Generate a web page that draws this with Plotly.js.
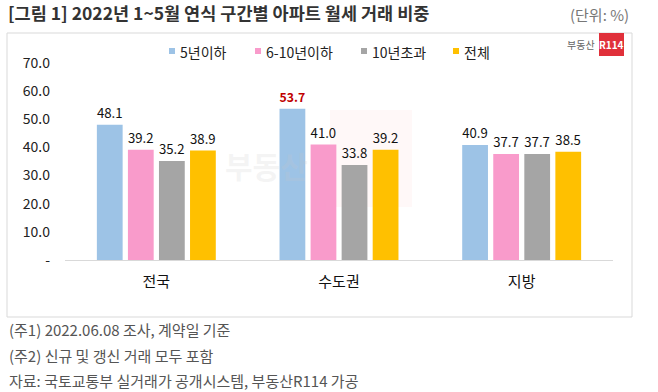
<!DOCTYPE html>
<html><head><meta charset="utf-8">
<script src="https://cdn.plot.ly/plotly-3.0.1.min.js"></script>
<style>html,body{margin:0;padding:0;background:#fff;}#c{width:658px;height:392px;}</style>
</head><body><div id="c"></div>
<script>
const categories = ['전국', '수도권', '지방'];
const seriesNames = ['5년이하', '6-10년이하', '10년초과', '전체'];
const s5 = [48.1, 53.7, 40.9];
const s6_10 = [39.2, 41.0, 37.7];
const s10 = [35.2, 33.8, 37.7];
const sAll = [38.9, 39.2, 38.5];
const yTickVals = [0, 10, 20, 30, 40, 50, 60, 70];
const yTickText = ['-', '10.0', '20.0', '30.0', '40.0', '50.0', '60.0', '70.0'];
const highlight = {series: 0, index: 1};

const colors = ['#9DC3E6', '#F99BCB', '#A5A5A5', '#FFC000'];
const seriesVals = [s5, s6_10, s10, sAll];

// plot area in pixels
const L = 65, R = 613, T = 63, B = 260;
const W = R - L, H = B - T;
const px = x => (x - L) / W;
const py = y => (B - y) / H;

const font = '"Noto Sans CJK KR", "Noto Sans", sans-serif';

const traces = seriesVals.map((vals, si) => ({
  type: 'bar',
  name: seriesNames[si],
  x: categories,
  y: vals,
  marker: {color: colors[si]},
  text: vals.map((v, i) => (si === highlight.series && i === highlight.index) ? '<b>' + v.toFixed(1) + '</b>' : v.toFixed(1)),
  textposition: 'outside',
  textfont: {family: font, size: 14, color: vals.map((v, i) => (si === highlight.series && i === highlight.index) ? '#C00000' : '#111')},
  cliponaxis: false,
  hoverinfo: 'skip'
}));

const legendX = [169, 255, 361, 453];
const shapes = [
  {type: 'rect', xref: 'paper', yref: 'paper', x0: px(7), x1: px(632), y0: py(317), y1: py(33), line: {color: '#D9D9D9', width: 1}, fillcolor: 'rgba(0,0,0,0)', layer: 'below'},
  {type: 'rect', xref: 'paper', yref: 'paper', x0: px(330), x1: px(412), y0: py(207), y1: py(110), line: {width: 0}, fillcolor: 'rgba(255,200,200,0.12)', layer: 'below'},
  {type: 'rect', xref: 'paper', yref: 'paper', x0: px(599), x1: px(624), y0: py(56), y1: py(33), line: {width: 0}, fillcolor: '#E0303A'}
];
const annotations = [];
seriesNames.forEach((n, i) => {
  shapes.push({type: 'rect', xref: 'paper', yref: 'paper', x0: px(legendX[i]), x1: px(legendX[i] + 6), y0: py(54), y1: py(48), line: {width: 0}, fillcolor: colors[i]});
  annotations.push({xref: 'paper', yref: 'paper', x: px(legendX[i] + 9), y: py(52), xanchor: 'left', yanchor: 'middle', text: n, showarrow: false, font: {family: font, size: 14, color: '#222'}});
});
annotations.push(
  {xref: 'paper', yref: 'paper', x: px(631), y: py(14), xanchor: 'right', yanchor: 'middle', text: '(단위: %)', showarrow: false, font: {family: font, size: 15, color: '#777'}},
  {xref: 'paper', yref: 'paper', x: px(597), y: py(45), xanchor: 'right', yanchor: 'middle', text: '부동산', showarrow: false, font: {family: font, size: 10, color: '#666'}},
  {xref: 'paper', yref: 'paper', x: px(611.5), y: py(45), xanchor: 'center', yanchor: 'middle', text: '<b>R114</b>', showarrow: false, font: {family: font, size: 10, color: '#fff'}},
  {xref: 'paper', yref: 'paper', x: px(266), y: py(165), xanchor: 'center', yanchor: 'middle', text: '<b>부동산</b>', showarrow: false, font: {family: font, size: 30, color: 'rgba(200,200,200,0.2)'}},
  {xref: 'paper', yref: 'paper', x: px(7), y: py(329), xanchor: 'left', yanchor: 'middle', text: '(주1) 2022.06.08 조사, 계약일 기준', showarrow: false, font: {family: font, size: 15, color: '#555'}},
  {xref: 'paper', yref: 'paper', x: px(7), y: py(355), xanchor: 'left', yanchor: 'middle', text: '(주2) 신규 및 갱신 거래 모두 포함', showarrow: false, font: {family: font, size: 15, color: '#555'}},
  {xref: 'paper', yref: 'paper', x: px(7), y: py(380), xanchor: 'left', yanchor: 'middle', text: '자료: 국토교통부 실거래가 공개시스템, 부동산R114 가공', showarrow: false, font: {family: font, size: 15, color: '#555'}}
);

const layout = {
  width: 658, height: 392,
  margin: {l: L, r: 658 - R, t: T, b: 392 - B, pad: 0},
  paper_bgcolor: '#fff', plot_bgcolor: 'rgba(0,0,0,0)',
  title: {text: '<b>[그림 1] 2022년 1~5월 연식 구간별 아파트 월세 거래 비중</b>', x: 8 / 658, xanchor: 'left', xref: 'container', y: 1 - 14 / 392, yanchor: 'middle', yref: 'container', font: {family: font, size: 17.5, color: '#333'}},
  showlegend: false,
  barmode: 'group', bargap: 0.32, bargroupgap: 0.17,
  xaxis: {type: 'category', showline: true, linecolor: '#D9D9D9', linewidth: 1, showgrid: false, ticks: '', tickfont: {family: font, size: 15, color: '#111'}, ticklabelstandoff: 8, fixedrange: true},
  yaxis: {range: [0, 70], tickvals: yTickVals, ticktext: yTickText, showgrid: false, zeroline: false, showline: false, ticks: '', tickfont: {family: font, size: 14, color: '#222'}, ticklabelstandoff: 14, fixedrange: true},
  shapes: shapes,
  annotations: annotations,
  font: {family: font}
};
Plotly.newPlot('c', traces, layout, {displayModeBar: false, staticPlot: true});
</script></body></html>
